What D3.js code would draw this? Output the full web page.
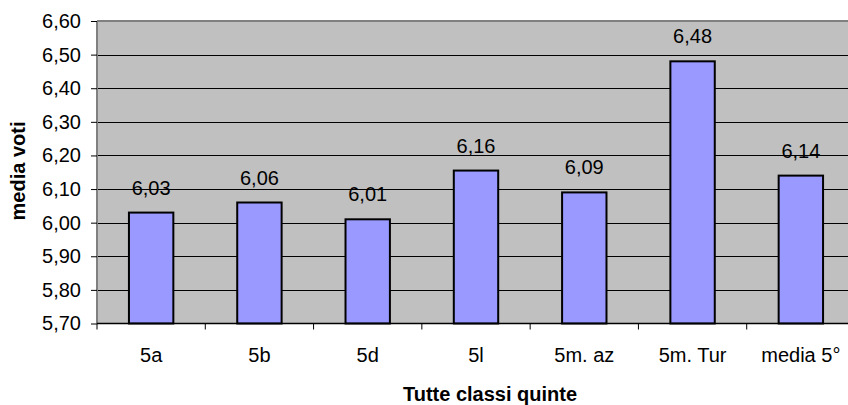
<!DOCTYPE html>
<html><head><meta charset="utf-8">
<script src="https://cdn.jsdelivr.net/npm/d3@7/dist/d3.min.js"></script>
<style>body{margin:0;background:#fff}svg{display:block;font-family:"Liberation Sans",Arial,sans-serif}</style>
</head><body><svg id="c" width="848" height="405"></svg>
<script>
const categories = ["5a","5b","5d","5l","5m. az","5m. Tur","media 5°"];
const values = [6.03,6.06,6.01,6.155,6.09,6.48,6.14];
const valueLabels = ["6,03","6,06","6,01","6,16","6,09","6,48","6,14"];
const yTicks = [5.7,5.8,5.9,6.0,6.1,6.2,6.3,6.4,6.5,6.6];
const yTitle = "media voti";
const xTitle = "Tutte classi quinte";

const svg = d3.select("#c");
const L = 97, R = 855, T = 21, B = 323.5;
const x = d3.scaleBand().domain(categories).range([L, R]).paddingInner(0.59).paddingOuter(0.295);
const xb = d3.scaleBand().domain(categories).range([L, R]);
const y = d3.scaleLinear().domain([5.7, 6.6]).range([B, T]);

svg.append("rect").attr("x", L).attr("y", T).attr("width", R - L).attr("height", B - T).attr("fill", "#c0c0c0");

svg.append("g").selectAll("line").data(yTicks.slice(1, -1)).join("line")
  .attr("x1", L).attr("x2", R).attr("y1", d => Math.round(y(d)) + 0.5).attr("y2", d => Math.round(y(d)) + 0.5)
  .attr("stroke", "#000").attr("stroke-width", 1);

svg.append("line").attr("x1", L).attr("x2", R).attr("y1", T).attr("y2", T)
  .attr("stroke", "#808080").attr("stroke-width", 2);

svg.append("g").selectAll("rect").data(values).join("rect")
  .attr("x", (d, i) => x(categories[i])).attr("width", x.bandwidth())
  .attr("y", d => y(d)).attr("height", d => B - y(d))
  .attr("fill", "#9999ff").attr("stroke", "#000").attr("stroke-width", 2);

const ya = d3.axisLeft(y).tickValues(yTicks).tickSize(6).tickPadding(10)
  .tickFormat(d => d3.format(".2f")(d).replace(".", ","));
const yg = svg.append("g").attr("transform", `translate(${L},0)`).call(ya);
yg.attr("font-size", null).attr("font-family", null);
yg.select(".domain").attr("stroke", "#808080").attr("stroke-width", 2).attr("d", `M0,${T}V${B}`);
yg.selectAll(".tick line").attr("stroke", "#000");
yg.selectAll("text").attr("font-size", 20).attr("fill", "#000");

const xg = svg.append("g").attr("transform", `translate(0,${B})`);
xg.append("line").attr("x1", L).attr("x2", R).attr("y1", 0).attr("y2", 0).attr("stroke", "#000").attr("stroke-width", 1.5);
xg.selectAll("line.tk").data(categories).join("line").attr("class", "tk")
  .attr("x1", d => xb(d)).attr("x2", d => xb(d)).attr("y1", 0).attr("y2", 6).attr("stroke", "#000");
xg.selectAll("text").data(categories).join("text")
  .attr("x", d => xb(d) + xb.bandwidth() / 2).attr("y", 38).attr("text-anchor", "middle")
  .attr("font-size", 20).text(d => d);

svg.append("g").selectAll("text").data(values).join("text")
  .attr("x", (d, i) => x(categories[i]) + x.bandwidth() / 2).attr("y", d => y(d) - 18)
  .attr("text-anchor", "middle").attr("font-size", 20).text((d, i) => valueLabels[i]);

svg.append("text").attr("transform", "translate(25,171) rotate(-90)").attr("text-anchor", "middle")
  .attr("font-size", 20).attr("font-weight", "bold").text(yTitle);
svg.append("text").attr("x", 490).attr("y", 401).attr("text-anchor", "middle")
  .attr("font-size", 20).attr("font-weight", "bold").text(xTitle);
</script></body></html>
